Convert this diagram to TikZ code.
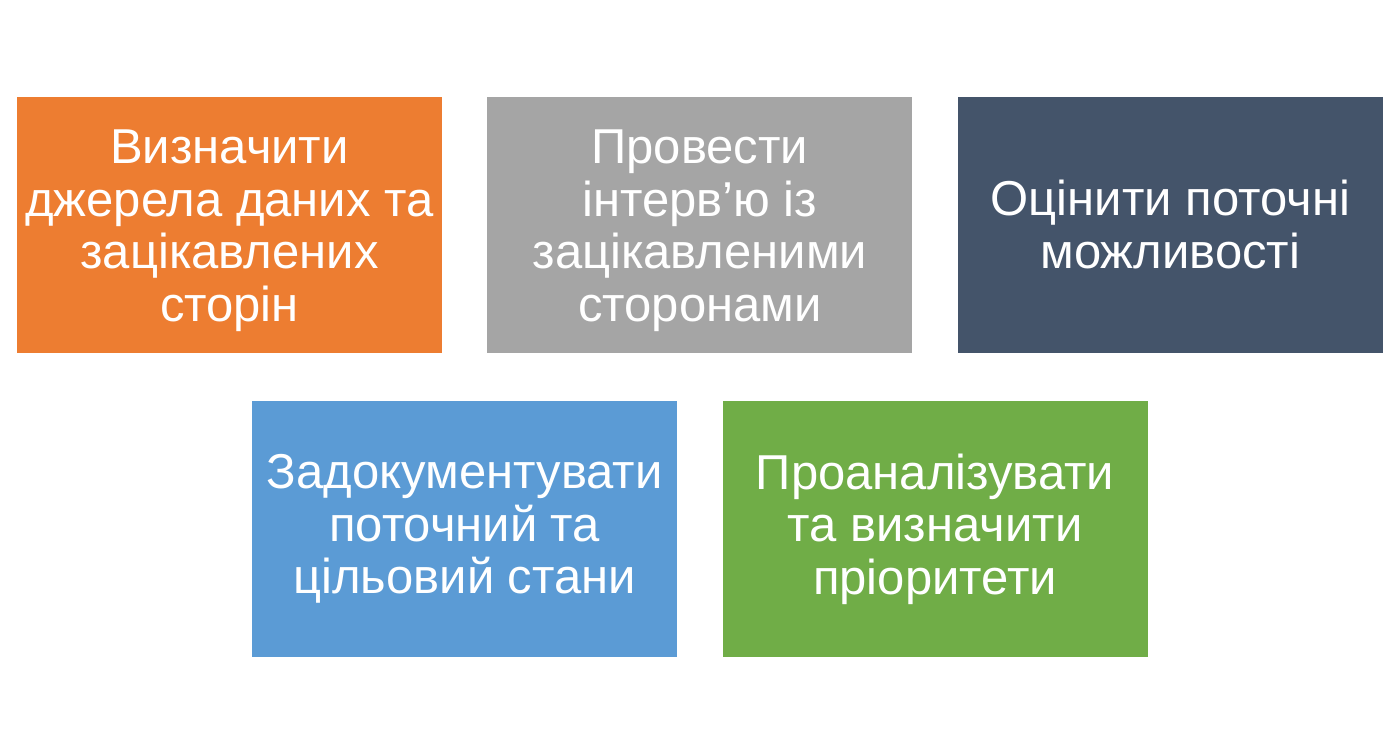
\documentclass[tikz,border=0pt]{standalone}
\usepackage{fontspec}
\setmainfont{Liberation Sans}
\usetikzlibrary{positioning, calc}

\definecolor{cardorange}{RGB}{237,125,49}
\definecolor{cardgray}{RGB}{165,165,165}
\definecolor{cardslate}{RGB}{68,84,106}
\definecolor{cardblue}{RGB}{91,155,213}
\definecolor{cardgreen}{RGB}{112,173,71}

% taller first line, so four lines sit a little lower
\newcommand{\cardtop}{\rule{0pt}{46pt}}

\tikzset{
    card/.style={rectangle, minimum width=425pt, minimum height=256pt, inner sep=0pt,
        text=white, align=center, font=\fontsize{49}{52.5}\selectfont}
}

\begin{document}
\begin{tikzpicture}[x=1pt, y=1pt, node distance=45pt]
    \useasboundingbox (0, 0) rectangle (1384, -752);

    % top row
    \node[card, fill=cardorange] (define) at (229.5, -224.5) {\cardtop Визначити\\джерела даних та\\зацікавлених\\сторін};
    \node[card, fill=cardgray, right=of define] (interview) {\cardtop Провести\\інтерв’ю із\\зацікавленими\\сторонами};
    \node[card, fill=cardslate, right=of interview] (assess) {Оцінити поточні\\можливості};

    % bottom row
    \coordinate (gap) at ($(define.south east)!0.5!(interview.south west)$);
    \node[card, fill=cardblue, below=48pt of gap] (document) {Задокументувати\\поточний та\\цільовий стани};
    \node[card, fill=cardgreen, right=of document] (analyse) {Проаналізувати\\та визначити\\пріоритети};
\end{tikzpicture}
\end{document}
